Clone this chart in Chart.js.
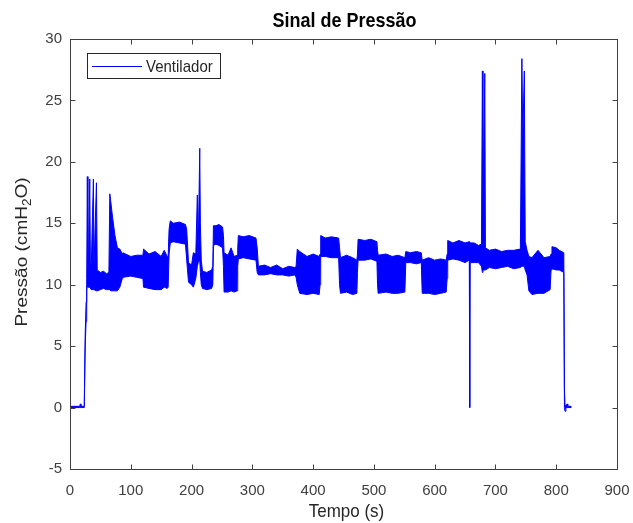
<!DOCTYPE html>
<html>
<head>
<meta charset="utf-8">
<script src="https://cdn.jsdelivr.net/npm/chart.js@4/dist/chart.umd.min.js"></script>
<style>
  html, body { margin: 0; padding: 0; background: #fff; }
  #wrap { width: 633px; height: 523px; }
</style>
</head>
<body>
<div id="wrap"><canvas id="c" width="633" height="523"></canvas></div>
<script>
"use strict";

const TIME = [0, 16, 17, 18, 23, 23.5, 25, 26.5, 27.5, 28.5, 29.5, 30.5, 32.5, 33.5, 35, 38.5, 39.5, 43.5, 44.8,
  50, 55, 60, 64, 65.5, 67, 70, 74, 78, 82, 86, 87, 100, 110, 120, 121, 130, 140, 150, 155, 160, 161.5, 163,
  165, 170, 180, 190, 192, 195, 200, 203, 207, 209.5, 211, 213.5, 214.5, 216, 218, 225, 233, 235, 236, 240,
  245, 251, 252.5, 253.5, 260, 265, 270, 275, 276, 277, 285, 295, 306, 308, 310, 320, 330, 340, 350, 360,
  370, 372, 374, 378, 390, 400, 410, 411.5, 412.5, 420, 430, 442, 443.5, 445, 455, 465, 472, 473, 474, 485,
  495, 505, 506, 507, 520, 530, 540, 551, 552.5, 560, 570, 578, 579.5, 590, 600, 610, 619, 620.5, 621.5, 630,
  640, 650, 657, 657.7, 658.3, 665, 672, 677, 678.5, 679.5, 682.5, 683.5, 690, 700, 710, 720, 730, 741, 743.5,
  745, 747.5, 749, 752, 755, 760, 770, 780, 790, 791.5, 793, 800, 805, 812.5, 813.5, 814.5, 816, 818, 819, 825];
const UPPER = [0.1, 0.1, 0.3, 0.1, 0.1, 0.2, 6, 8.6, 10.5, 18.8, 11, 12, 18.6, 12, 11.5, 18.6, 11.5, 18.3, 11.2,
  11.0, 11.1, 10.9, 11.0, 17.4, 16.8, 15.5, 14, 13, 12.9, 12.5, 12.6, 12.3, 12.4, 12.4, 12.9, 12.5, 12.7, 12.3, 12.8, 12.3, 12.3, 14.5,
  15.2, 15.0, 15.1, 14.9, 14.5, 11.8, 11.6, 12.6, 12.5, 17.3, 13, 21.1, 15, 12, 11.1, 11.0, 11.2, 11.5, 14.8, 14.8,
  14.9, 14.7, 14, 12.6, 12.4, 13.0, 12.3, 12.4, 13, 14.0, 13.9, 14.0, 13.8, 13, 11.5, 11.6, 11.4, 11.6, 11.3, 11.5,
  11.4, 11.5, 12.9, 12.7, 12.3, 12.5, 12.3, 12.5, 14.0, 13.8, 13.9, 13.8, 13, 12.2, 12.4, 12.2, 12.0, 12.5, 13.7, 13.6,
  13.7, 13.5, 12.8, 12.4, 12.5, 12.3, 12.4, 12.2, 12.7, 12.6, 12.7, 12.6, 12.0, 12.2, 12.0, 12.1, 12.0, 12.5, 13.6, 13.4,
  13.6, 13.4, 13.5, 13.2, 13.4, 13.4, 13.2, 13.3, 27.4, 15.8, 27.2, 13, 12.8, 12.9, 12.7, 12.8, 12.8, 12.9, 28.4,
  22, 27.4, 13.5, 12.8, 12.3, 12.2, 12.8, 12.2, 12.3, 12.5, 13.1, 13.0, 12.8, 12.6, 1.5, 0.2, 0.1, 0.3, 0.1, 0.1];
const LOWER = [0, 0, 0, 0, 0, 0, 5, 7, 9.5, 10, 9.8, 9.8, 9.8, 9.7, 9.6, 9.6, 9.6, 9.5, 9.5,
  9.6, 9.7, 9.6, 9.6, 9.6, 9.5, 9.5, 9.5, 9.5, 9.8, 10.5, 10.6, 10.7, 10.6, 10.5, 9.8, 9.7, 9.6, 9.6, 9.8, 9.7, 9.8, 12.5,
  13.4, 13.5, 13.4, 13.3, 12, 10.2, 10.0, 9.8, 10.5, 11.5, 11.8, 12, 11, 10, 9.7, 9.6, 9.7, 10, 13.2, 13.3,
  13.2, 13.0, 11.5, 9.4, 9.4, 9.5, 9.4, 9.5, 11.5, 12.1, 12.2, 12.1, 12.0, 11, 10.8, 10.8, 10.9, 10.8, 10.8, 10.7,
  10.8, 10.6, 10, 9.3, 9.2, 9.3, 9.2, 10, 12.3, 12.3, 12.2, 12.2, 10, 9.3, 9.4, 9.2, 9.3, 11, 12.0, 12.0,
  12.1, 11.9, 10, 9.3, 9.4, 9.3, 9.3, 9.4, 11.8, 11.8, 11.7, 11.8, 9.3, 9.3, 9.2, 9.3, 9.4, 10.5, 12.0, 12.1,
  12.0, 11.8, 12.0, 0, 11.8, 11.8, 11.8, 11.5, 11.0, 11.2, 11.2, 11.2, 11.4, 11.3, 11.4, 11.5, 11.3, 11.4, 11.5,
  11.5, 11.5, 11.2, 10.8, 9.5, 9.2, 9.3, 9.3, 9.6, 11.2, 11.3, 11.2, 11.2, 11.0, 0, -0.3, 0, 0, 0, 0];

const X_MIN = 0, X_MAX = 900, X_STEP = 100;
const Y_MIN = -5, Y_MAX = 30, Y_STEP = 5;
const TITLE = "Sinal de Pressão";
const X_LABEL = "Tempo (s)";
const Y_LABEL = ["Pressão (cmH", "2", "O)"];      // subscript in the middle
const SERIES_LABEL = "Ventilador";

const BLUE = "#0000ff";
const AXIS = "#404040";
const FONT = "'Liberation Sans', Arial, Helvetica, sans-serif";
const STRETCH = 1.12;          // the source figure is a bit taller than its fonts

const pts = (ys) => TIME.map((t, i) => ({ x: t, y: ys[i] }));

// MATLAB-style box, inward ticks, title, axis labels and legend
const matlabDecor = {
  id: "matlabDecor",
  afterDraw(chart) {
    const { ctx, chartArea: a, scales } = chart;
    const L = Math.round(a.left) + 0.5, R = Math.round(a.right) + 0.5;
    const T = Math.round(a.top) + 0.5, B = Math.round(a.bottom) + 0.5;
    ctx.save();
    ctx.strokeStyle = AXIS; ctx.lineWidth = 1;
    ctx.strokeRect(L, T, R - L, B - T);
    ctx.beginPath();
    scales.x.ticks.forEach((tk) => {
      const px = Math.round(scales.x.getPixelForValue(tk.value)) + 0.5;
      ctx.moveTo(px, B); ctx.lineTo(px, B - 5);
      ctx.moveTo(px, T); ctx.lineTo(px, T + 5);
    });
    scales.y.ticks.forEach((tk) => {
      const py = Math.round(scales.y.getPixelForValue(tk.value)) + 0.5;
      ctx.moveTo(L, py); ctx.lineTo(L + 5, py);
      ctx.moveTo(R, py); ctx.lineTo(R - 5, py);
    });
    ctx.stroke();

    const cx = (a.left + a.right) / 2;
    ctx.textAlign = "center"; ctx.textBaseline = "alphabetic";
    ctx.fillStyle = "#000";
    ctx.font = "bold 18px " + FONT;
    ctx.setTransform(1, 0, 0, STRETCH, 0, 27);
    ctx.fillText(TITLE, cx + 1, 0);

    ctx.fillStyle = "#262626";
    ctx.font = "17px " + FONT;
    ctx.setTransform(1, 0, 0, STRETCH, 0, 517);
    ctx.fillText(X_LABEL, cx + 3, 0);

    // rotated y label with subscript
    ctx.setTransform(1, 0, 0, 1, 27, (a.top + a.bottom) / 2 - 2);
    ctx.rotate(-Math.PI / 2);
    ctx.scale(STRETCH, 1);
    const big = "17px " + FONT, small = "12px " + FONT;
    ctx.font = big; const w0 = ctx.measureText(Y_LABEL[0]).width, w2 = ctx.measureText(Y_LABEL[2]).width;
    ctx.font = small; const w1 = ctx.measureText(Y_LABEL[1]).width;
    let x0 = -(w0 + w1 + w2) / 2;
    ctx.textAlign = "left";
    ctx.font = big; ctx.fillText(Y_LABEL[0], x0, 0); x0 += w0;
    ctx.font = small; ctx.fillText(Y_LABEL[1], x0, 4); x0 += w1;
    ctx.font = big; ctx.fillText(Y_LABEL[2], x0, 0);
    ctx.setTransform(1, 0, 0, 1, 0, 0);

    // legend box
    ctx.fillStyle = "#fff";
    ctx.fillRect(87.5, 53.5, 133, 25);
    ctx.strokeStyle = "#262626";
    ctx.strokeRect(87.5, 53.5, 133, 25);
    ctx.strokeStyle = BLUE; ctx.lineWidth = 1;
    ctx.beginPath(); ctx.moveTo(92, 66.5); ctx.lineTo(142, 66.5); ctx.stroke();
    ctx.fillStyle = "#262626";
    ctx.font = "15px " + FONT; ctx.textAlign = "left"; ctx.textBaseline = "alphabetic";
    ctx.setTransform(1, 0, 0, STRETCH, 146, 72);
    ctx.fillText(chart.data.datasets[0].label, 0, 0);
    ctx.restore();
  },
};

new Chart(document.getElementById("c"), {
  type: "line",
  data: {
    datasets: [
      { label: SERIES_LABEL, data: pts(UPPER), borderColor: BLUE, backgroundColor: BLUE,
        borderWidth: 1, pointRadius: 0, tension: 0, fill: "+1" },
      { label: "", data: pts(LOWER), borderColor: BLUE, backgroundColor: BLUE,
        borderWidth: 1, pointRadius: 0, tension: 0, fill: false },
    ],
  },
  options: {
    responsive: false, animation: false, devicePixelRatio: 1,
    layout: { padding: { top: 39, right: 16, left: 0, bottom: 0 } },
    plugins: { legend: { display: false }, title: { display: false }, tooltip: { enabled: false } },
    scales: {
      x: {
        type: "linear", min: X_MIN, max: X_MAX,
        ticks: { stepSize: X_STEP, color: AXIS, font: { family: FONT, size: 15 }, padding: 13, maxRotation: 0 },
        grid: { display: false, drawTicks: false }, border: { display: false },
        // fixed box: plot area spans x 70..617, y 39..469 like the source figure
        afterFit: (s) => { s.height = 54; s.paddingLeft = 0; s.paddingRight = 0; },
      },
      y: {
        min: Y_MIN, max: Y_MAX,
        ticks: { stepSize: Y_STEP, color: AXIS, font: { family: FONT, size: 15 }, padding: 8 },
        grid: { display: false, drawTicks: false }, border: { display: false },
        afterFit: (s) => { s.width = 70; s.paddingTop = 0; s.paddingBottom = 0; },
      },
    },
  },
  plugins: [matlabDecor],
});
</script>
</body>
</html>
